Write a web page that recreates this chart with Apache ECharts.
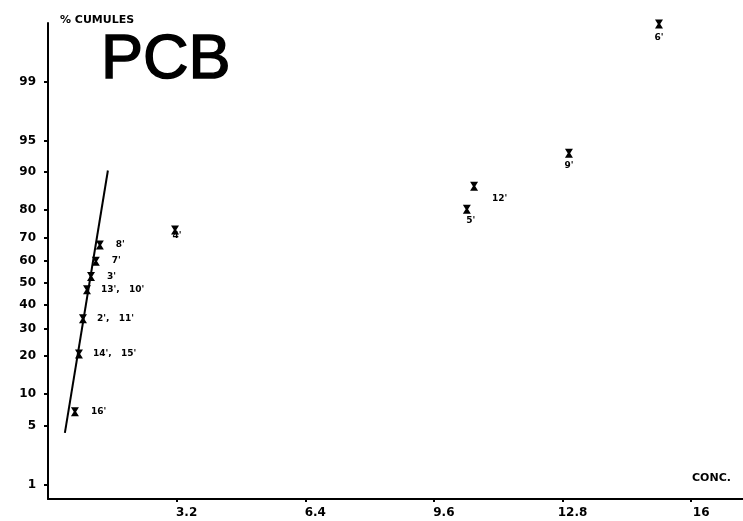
<!DOCTYPE html>
<html><head><meta charset="utf-8">
<script src="https://cdn.jsdelivr.net/npm/echarts@6/dist/echarts.min.js"></script>
<style>html,body{margin:0;padding:0;background:#fff}#c{width:743px;height:521px}</style>
</head><body><div id="c"></div>
<script>
// ---- data ----
const sampleLabels = ["16'", "14',   15'", "2',   11'", "13',   10'", "3'", "7'", "8'", "4'", "5'", "12'", "9'", "6'"];
const concValues   = [0.67, 0.77, 0.87, 0.97, 1.07, 1.19, 1.29, 3.16, 10.42, 10.6, 12.96, 15.2];
const cumulPct     = [6.9, 20.7, 34, 47, 53, 60, 67, 73, 80.3, 86.8, 93.3, 99.86];
const fitLineConc  = [0.42, 1.49];
const fitLinePct   = [4.2, 90.3];
const xTickValues  = [3.2, 6.4, 9.6, 12.8, 16];
const yTickPct     = [1, 5, 10, 20, 30, 40, 50, 60, 70, 80, 90, 95, 99];

// normal probability scale (inverse normal CDF, Acklam)
function probit(p) {
  const a = [-3.969683028665376e+01, 2.209460984245205e+02, -2.759285104469687e+02, 1.383577518672690e+02, -3.066479806614716e+01, 2.506628277459239e+00];
  const b = [-5.447609879822406e+01, 1.615858368580409e+02, -1.556989798598866e+02, 6.680131188771972e+01, -1.328068155288572e+01];
  const c = [-7.784894002430293e-03, -3.223964580411365e-01, -2.400758277161838e+00, -2.549732539343734e+00, 4.374664141464968e+00, 2.938163982698783e+00];
  const d = [7.784695709041462e-03, 3.224671290700398e-01, 2.445134137142996e+00, 3.754408661907416e+00];
  const pl = 0.02425, ph = 1 - pl;
  let q, r;
  if (p < pl) { q = Math.sqrt(-2 * Math.log(p)); return (((((c[0]*q+c[1])*q+c[2])*q+c[3])*q+c[4])*q+c[5]) / ((((d[0]*q+d[1])*q+d[2])*q+d[3])*q+1); }
  if (p <= ph) { q = p - 0.5; r = q*q; return (((((a[0]*r+a[1])*r+a[2])*r+a[3])*r+a[4])*r+a[5])*q / (((((b[0]*r+b[1])*r+b[2])*r+b[3])*r+b[4])*r+1); }
  q = Math.sqrt(-2 * Math.log(1 - p)); return -(((((c[0]*q+c[1])*q+c[2])*q+c[3])*q+c[4])*q+c[5]) / ((((d[0]*q+d[1])*q+d[2])*q+d[3])*q+1);
}
const zOf = pct => probit(pct / 100);
const yTickZ = yTickPct.map(zOf);

// label placement per point (style only)
const labelStyle = [
  {position: 'right', distance: 12},
  {position: 'right', distance: 10},
  {position: 'right', distance: 10},
  {position: 'right', distance: 10},
  {position: 'right', distance: 12},
  {position: 'right', distance: 12},
  {position: 'right', distance: 12},
  {position: 'bottom', distance: -3, offset: [2, 0]},
  {position: 'bottom', distance: 2, offset: [4, 0]},
  {position: 'right', distance: 10, offset: [4, 12]},
  {position: 'bottom', distance: 3},
  {position: 'bottom', distance: 5}
];

const pointData = sampleLabels.map((n, i) => ({
  value: [concValues[i], zOf(cumulPct[i])],
  name: n,
  label: Object.assign({show: true, formatter: n}, labelStyle[i])
}));

const txt = '#000';
const labelFont = 'DejaVu Sans';
const chart = echarts.init(document.getElementById('c'), null, {renderer: 'canvas'});
chart.setOption({
  animation: false,
  backgroundColor: '#fff',
  grid: {left: 48, right: 0, top: 23, bottom: 22, containLabel: false},
  xAxis: {
    type: 'value', min: 0, max: 17.29,
    axisLine: {show: true, onZero: false, lineStyle: {color: txt, width: 2}},
    axisTick: {show: true, length: 3, customValues: xTickValues, lineStyle: {color: txt, width: 2}},
    axisLabel: {customValues: xTickValues, color: txt, fontFamily: labelFont, fontWeight: 'bold', fontSize: 12,
      margin: 8, padding: [0, 0, 0, 20], formatter: v => String(v)},
    splitLine: {show: false}
  },
  yAxis: {
    type: 'value', min: -2.49, max: 3.0,
    axisLine: {show: true, onZero: false, lineStyle: {color: txt, width: 2}},
    axisTick: {show: true, length: 4, customValues: yTickZ, lineStyle: {color: txt, width: 2}},
    axisLabel: {customValues: yTickZ, color: txt, fontFamily: labelFont, fontWeight: 'bold', fontSize: 12, margin: 12,
      formatter: v => { const i = yTickZ.findIndex(z => Math.abs(z - v) < 1e-6); return i >= 0 ? String(yTickPct[i]) : ''; }},
    splitLine: {show: false}
  },
  series: [
    {
      type: 'line',
      data: fitLineConc.map((x, i) => [x, zOf(fitLinePct[i])]),
      showSymbol: false, symbol: 'none',
      lineStyle: {color: txt, width: 2},
      silent: true
    },
    {
      type: 'scatter',
      data: pointData,
      symbol: 'path://M0,0H10L6.5,5L10,10H0L3.5,5Z',
      symbolSize: [8, 9],
      itemStyle: {color: txt, opacity: 1},
      label: {color: txt, fontFamily: labelFont, fontWeight: 'bold', fontSize: 9, opacity: 1}
    }
  ],
  graphic: [
    {type: 'text', style: {text: '% CUMULES', x: 60, y: 20, textVerticalAlign: 'middle', textAlign: 'left',
      font: 'bold 11px "DejaVu Sans"', fill: txt}},
    {type: 'text', style: {text: 'PCB', x: 101, y: 61, textVerticalAlign: 'middle', textAlign: 'left',
      font: '63px "Liberation Sans"', fill: txt, stroke: txt, lineWidth: 1.5}},
    {type: 'text', style: {text: 'CONC.', x: 692, y: 478, textVerticalAlign: 'middle', textAlign: 'left',
      font: 'bold 11px "DejaVu Sans"', fill: txt}}
  ]
});
</script>
</body></html>
